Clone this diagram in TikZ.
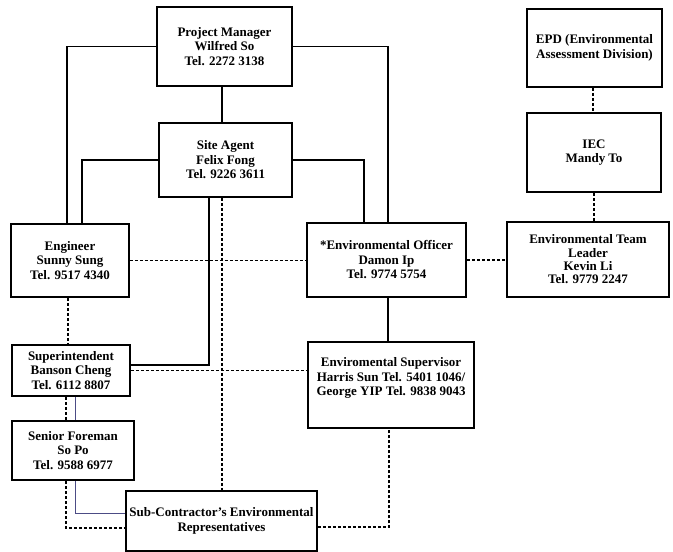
\documentclass[tikz,border=0pt]{standalone}
\usepackage{fontspec}
\setmainfont{Liberation Serif}
\begin{document}
\begin{tikzpicture}[x=1pt,y=-1pt,
  box/.style={draw, line width=1.5pt, fill=white, align=center, inner sep=2pt,
    font=\bfseries\fontsize{13}{14.5}\selectfont},
  boxtext/.style={align=center, inner sep=0pt, font=\bfseries\fontsize{13}{14.5}\selectfont},
  link/.style={line width=1.2pt},
  dlink/.style={line width=1.4pt, dash pattern=on 3pt off 2pt},
  faint/.style={line width=0.6pt, draw=black!45!blue!40!gray}
]
\useasboundingbox (0,0) rectangle (673,552);
\fill[white] (0,0) rectangle (673,552);

% x levels
\foreach \xx in {66,67,68,75,82,209,222,364,388,389,593,594}{\coordinate (x\xx) at (\xx,0);}

% boxes
\node[box, minimum width=135pt, minimum height=79pt] (pm) at (224.5,46.5) {Project Manager\\Wilfred So\\Tel. 2272 3138};
\node[box, minimum width=133pt, minimum height=74pt] (sa) at (225.5,160) {Site Agent\\Felix Fong\\Tel. 9226 3611};
\node[box, minimum width=118pt, minimum height=73pt] (eng) at (70,260.5) {Engineer\\Sunny Sung\\Tel. 9517 4340};
\node[box, minimum width=159pt, minimum height=74pt] (eo) at (386.5,260) {*Environmental Officer\\Damon Ip\\Tel. 9774 5754};
\node[box, minimum width=118pt, minimum height=51pt] (sup) at (71,370.5) {Superintendent\\Banson Cheng\\Tel. 6112 8807};
\node[box, minimum width=166pt, minimum height=86pt] (es) at (391,385) {};
\node[boxtext] (est) at ([yshift=7pt]es.center) {Enviromental Supervisor\\Harris Sun Tel. 5401 1046/\\George YIP Tel. 9838 9043};
\node[box, minimum width=122pt, minimum height=59pt] (sf) at (73,450.5) {Senior Foreman\\So Po\\Tel. 9588 6977};
\node[box, minimum width=191pt, minimum height=60pt] (sub) at (221.5,521) {Sub-Contractor's Environmental\\Representatives};
\node[box, minimum width=135pt, minimum height=78pt] (epd) at (594.5,48) {EPD (Environmental\\Assessment Division)};
\node[box, minimum width=134pt, minimum height=79pt] (iec) at (594,152.5) {IEC\\Mandy To};
\node[box, minimum width=162pt, minimum height=75pt, font=\bfseries\fontsize{13}{13.3}\selectfont] (etl) at (588,259.5) {Environmental Team\\Leader\\Kevin Li\\Tel. 9779 2247};

% connectors
\draw[link] (pm.south -| x222) -- (sa.north -| x222);
\draw[link] (pm.west) -| (eng.north -| x67);
\draw[link] (sa.west) -| (eng.north -| x82);
\draw[link] (pm.east) -| (eo.north -| x388);
\draw[link] (sa.east) -| (eo.north -| x364);
\draw[dlink] (eng.east) -- (eo.west |- eng.east);
\draw[link] (sa.south -| x209) |- ([yshift=5.5pt]sup.east);
\draw[dlink] (sa.south -| x222) -- (sub.north -| x222);
\draw[dlink] (sup.east) -- (es.west |- sup.east);
\draw[link] (eo.south -| x388) -- (es.north -| x388);
\draw[dlink] (eng.south -| x68) -- (sup.north -| x68);
\draw[dlink] (sup.south -| x66) -- (sf.north -| x66);
\draw[faint] (sup.south -| x75) -- (sf.north -| x75);
\draw[faint] (sf.south -| x75) |- ([yshift=8pt]sub.west);
\draw[dlink] (sf.south -| x66) |- ([yshift=-7pt]sub.west);
\draw[dlink] ([yshift=-6pt]sub.east) -| (es.south -| x389);
\draw[dlink] (epd.south -| x593) -- (iec.north -| x593);
\draw[dlink] (iec.south -| x594) -- (etl.north -| x594);
\draw[dlink] (eo.east) -- (etl.west |- eo.east);
\end{tikzpicture}
\end{document}
